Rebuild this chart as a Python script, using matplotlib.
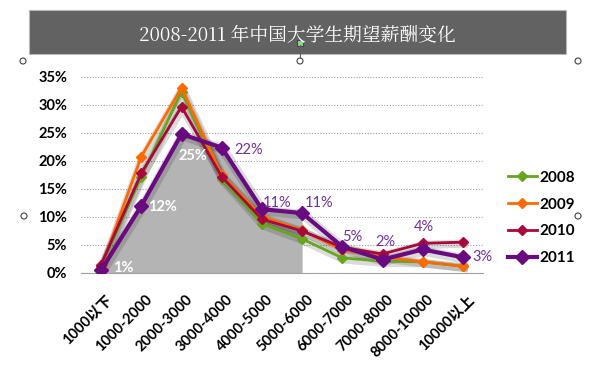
import matplotlib
matplotlib.use("Agg")
import matplotlib.pyplot as plt
from matplotlib.patches import Rectangle, Ellipse
import matplotlib.transforms as mtransforms
import numpy as np

plt.rcParams['font.family'] = ['Lato', 'Noto Sans CJK SC', 'DejaVu Sans']

categories = ['1000以下', '1000-2000', '2000-3000', '3000-4000', '4000-5000',
              '5000-6000', '6000-7000', '7000-8000', '8000-10000', '10000以上']
s2008 = [1.2, 17.2, 32.4, 16.8, 8.8, 6.1, 2.7, 2.1, 2.0, 1.2]
s2009 = [1.0, 20.8, 33.1, 17.5, 10.1, 7.6, 4.1, 2.9, 2.0, 1.2]
s2010 = [1.5, 17.8, 29.7, 17.2, 9.6, 7.5, 4.6, 3.4, 5.3, 5.5]
s2011 = [0.5, 12.0, 24.8, 22.4, 11.4, 10.7, 4.7, 2.4, 4.2, 2.8]
labels2011 = ['1%', '12%', '25%', '22%', '11%', '11%', '5%', '2%', '4%', '3%']
yticks = [0, 5, 10, 15, 20, 25, 30, 35]

W, H = 611, 365
fig = plt.figure(figsize=(W/100, H/100), dpi=100)

def fx(px):
    return px / W

def fy(py):
    return 1 - py / H

ax = fig.add_axes([fx(81), fy(273), fx(483) - fx(81), fy(77) - fy(273)])
x = np.arange(len(categories))
ax.set_xlim(-0.5, len(categories) - 0.5)
ax.set_ylim(0, 35)

# gray area under 2011 (first six categories)
ax.fill_between(x[:6], 0, s2011[:6], color='#b4b4b4', lw=0, zorder=1)

series = [
    (s2008, '#66a61e', '2008', 2.0, 5.0),
    (s2009, '#ff6a00', '2009', 2.0, 5.5),
    (s2010, '#a8083a', '2010', 2.0, 5.5),
    (s2011, '#6a0a80', '2011', 3.0, 7.0),
]
for vals, col, name, lw, ms in series:
    # soft shadow
    ax.plot(x, vals, color='#000000', alpha=0.14, lw=lw + 4, solid_joinstyle='round',
            zorder=2, transform=ax.transData + mtransforms.ScaledTranslation(1/100, -1.5/100, fig.dpi_scale_trans))
    ax.plot(x, vals, color=col, lw=lw, marker='D', ms=ms, mec=col, mfc=col,
            label=name, zorder=3)

# data labels for 2011
offsets = [(12, 2, 'left', 'white', 'bold'),
           (7, -1, 'left', 'white', 'bold'),
           (11, -22, 'center', 'white', 'bold'),
           (13, -2, 'left', '#7030a0', 'normal'),
           (1, 6, 'left', '#7030a0', 'normal'),
           (3, 10, 'left', '#7030a0', 'normal'),
           (10, 10, 'center', '#7030a0', 'normal'),
           (3, 18, 'center', '#7030a0', 'normal'),
           (1, 22, 'center', '#7030a0', 'normal'),
           (10, 0, 'left', '#7030a0', 'normal')]
for i, (lab, (dx, dy, ha, c, w)) in enumerate(zip(labels2011, offsets)):
    ax.annotate(lab, (x[i], s2011[i]), xytext=(dx, dy), textcoords='offset pixels',
                ha=ha, va='center', color=c, fontsize=10.5, fontweight=w, zorder=5)

ax.set_yticks(yticks)
ax.set_yticklabels([f'{v}%' for v in yticks], fontsize=10.5, fontweight='bold')
ax.set_xticks(x)
ax.set_xticklabels(categories, rotation=45, ha='right', rotation_mode='anchor',
                   fontsize=10.5, fontweight='bold')
ax.tick_params(axis='x', length=0, pad=14)
ax.tick_params(axis='y', length=0, pad=10)
for t in ax.get_xticklabels():
    t.set_transform(t.get_transform() + mtransforms.ScaledTranslation(4/100, 0, fig.dpi_scale_trans))
ax.grid(axis='y', color='#a0a0a0', ls=(0, (1, 1.5)), lw=0.8, zorder=0)
for s in ['top', 'right', 'left']:
    ax.spines[s].set_visible(False)
ax.spines['bottom'].set_color('#a0a0a0')
ax.set_axisbelow(True)

leg = fig.legend(loc='center left', bbox_to_anchor=(fx(494), fy(218)), frameon=False,
                 prop={'weight': 'bold', 'size': 11},
                 handlelength=1.9, handletextpad=0.15, labelspacing=0.85)

# title bar
fig.patches.append(Rectangle((fx(29), fy(54)), fx(566) - fx(29), fy(10) - fy(54),
                             transform=fig.transFigure, facecolor='#626262',
                             edgecolor='#b8b8b8', lw=0.8, zorder=0))
fig.text(fx(297), fy(35), '2008-2011 年中国大学生期望薪酬变化', color='white',
         ha='center', va='center', fontsize=13.5,
         family=['Noto Serif CJK SC', 'Noto Sans CJK SC', 'DejaVu Sans'])

# selection handles
for (hx, hy) in [(23, 61), (300, 61), (578, 61), (24, 216), (578, 216)]:
    fig.patches.append(Ellipse((fx(hx), fy(hy)), 6/W, 6/H, transform=fig.transFigure,
                               facecolor='white', edgecolor='#404040', lw=0.8))
fig.add_artist(plt.Line2D([fx(300), fx(300)], [fy(45), fy(58)], transform=fig.transFigure,
                          color='#606060', lw=0.8))
fig.patches.append(Rectangle((fx(297), fy(46)), 6/W, 6/H, transform=fig.transFigure,
                             facecolor='#80e080', edgecolor='#7a1f7a', lw=0.8))

fig.savefig('out.png', dpi=100)
